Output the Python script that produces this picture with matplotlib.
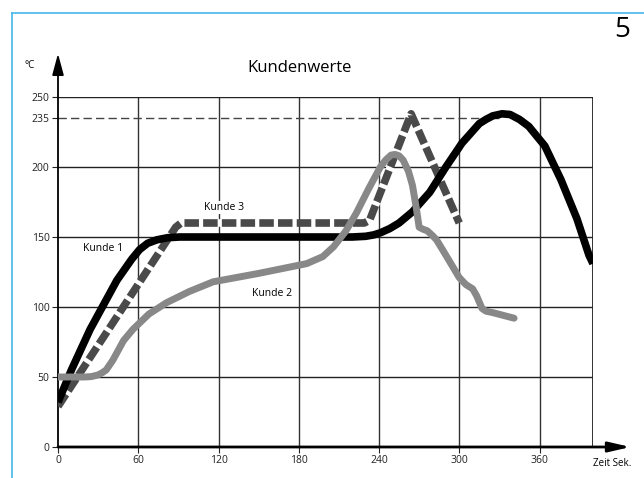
import numpy as np
import matplotlib
matplotlib.use('Agg')
import matplotlib.pyplot as plt
from matplotlib.lines import Line2D

plt.rcParams['font.family'] = ['Open Sans', 'DejaVu Sans']

# Kunde 1 (black)
k1_t = [0, 10, 24, 44, 55, 61, 67, 74, 82, 91, 150, 220, 230, 236, 241, 248, 255, 265,
        278, 290, 302, 315, 320, 325, 332, 338, 345, 352, 364, 376, 388, 397, 400]
k1_T = [32, 55, 84, 119, 134, 141, 145.5, 148, 149.5, 150, 150, 150, 150.5, 151.5, 153, 156,
        160, 168, 182, 200, 217, 231, 234, 236.5, 238, 237.5, 234, 229, 215, 191, 163, 137, 131]

# Kunde 2 (grey)
k2_t = [0, 20, 25, 30, 33, 36, 41, 45, 49, 56, 68, 81, 98, 116, 150, 186, 198, 206,
        215, 223, 232, 241, 245, 249, 252, 255, 258, 262, 265, 268, 270, 273, 276,
        280, 283, 290, 300, 305, 310, 313, 317, 320, 325, 341]
k2_T = [50, 50, 50.3, 51.5, 53, 55, 62, 69, 76, 84, 95, 103, 111, 118, 124, 131, 136, 143,
        154, 167, 184, 200, 205, 208.5, 209, 208, 205, 197, 187, 170, 157, 155.5, 154.5,
        151, 148, 137, 121, 116, 113, 108, 99, 97, 96, 92]

# Kunde 3 (dashed)
k3_t = [0, 88, 92, 229, 233, 264, 300]
k3_T = [29, 157, 160, 160, 162, 238, 160]

xticks = [0, 60, 120, 180, 240, 300, 360]
yticks = [0, 50, 100, 150, 200, 235, 250]
limit = 235

fig = plt.figure(figsize=(6.44, 4.78), dpi=100)
ax = fig.add_axes([58/644, 31/478, 535/644, 350/478])
ax.set_xlim(0, 400)
ax.set_ylim(0, 250)

for s in ax.spines.values():
    s.set_visible(False)

# grid
for x in xticks[1:]:
    ax.plot([x, x], [0, 250], color='#333333', lw=1, zorder=1)
for y in [50, 100, 150, 200, 250]:
    ax.plot([0, 400], [y, y], color='#222222', lw=1, zorder=1)
ax.plot([400, 400], [0, 250], color='#222222', lw=1.3, zorder=1)
ax.plot([0, 330], [limit, limit], color='#444444', lw=1, dashes=(6, 3), zorder=1)

# axes with arrows
ax.annotate('', xy=(0, 281), xytext=(0, 0), annotation_clip=False,
            arrowprops=dict(arrowstyle='-|>,head_length=1.3,head_width=0.35',
                            color='black', lw=1.3, shrinkA=0, shrinkB=0))
ax.annotate('', xy=(428, 0), xytext=(0, 0), annotation_clip=False,
            arrowprops=dict(arrowstyle='-|>,head_length=1.3,head_width=0.3',
                            color='black', lw=2, shrinkA=0, shrinkB=0))

# curves
l3, = ax.plot(k3_t, k3_T, color='#4a4a4a', lw=5.5, dashes=(1.9, 0.55),
              solid_joinstyle='round', zorder=3)
l3.set_gapcolor('white')
ax.plot(k1_t, k1_T, color='black', lw=5.5, solid_joinstyle='round',
        solid_capstyle='butt', zorder=4)
ax.plot(k2_t, k2_T, color='#888888', lw=5, solid_joinstyle='round',
        solid_capstyle='round', zorder=5)

box = dict(facecolor='white', edgecolor='none', pad=1)
ax.text(34, 142, 'Kunde 1', fontsize=7.5, ha='center', va='center', bbox=box, zorder=6)
ax.text(124, 171, 'Kunde 3', fontsize=7.5, ha='center', va='center', bbox=box, zorder=6)
ax.text(160, 110, 'Kunde 2', fontsize=7.5, ha='center', va='center', bbox=box, zorder=6)

ax.set_xticks(xticks)
ax.set_xticklabels([str(v) for v in xticks])
ax.set_yticks(yticks)
ax.set_yticklabels([str(v) for v in yticks])
ax.tick_params(axis='both', length=4, width=0.8, labelsize=7.5, pad=2,
               colors='#222222')

fig.text(300/644, 1 - 68/478, 'Kundenwerte', fontsize=12, ha='center', va='center')
fig.text(30/644, 1 - 66/478, '°C', fontsize=7, ha='center', va='center')
fig.text(622/644, 1 - 30/478, '5', fontsize=20, ha='center', va='center')
fig.text(612/644, 1 - 463/478, 'Zeit Sek.', fontsize=7, ha='center', va='center')

# light blue frame
blue = '#45b8ea'
fig.add_artist(Line2D([12/644, 1], [1 - 13/478, 1 - 13/478], color=blue, lw=1.2))
fig.add_artist(Line2D([12/644, 12/644], [0, 1 - 13/478], color=blue, lw=1.2))

fig.savefig('out.png', dpi=100)
